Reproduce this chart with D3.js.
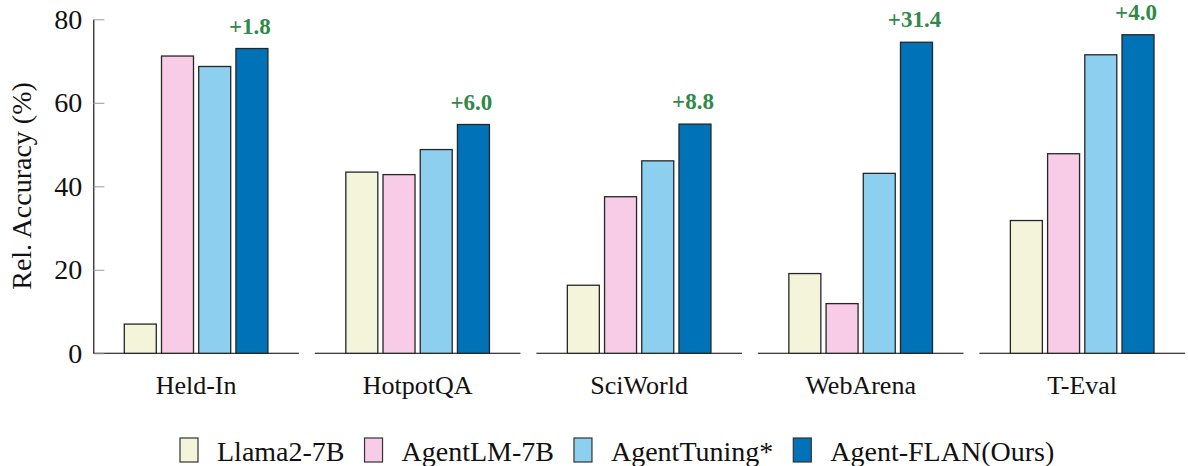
<!DOCTYPE html>
<html><head><meta charset="utf-8">
<script src="https://cdn.jsdelivr.net/npm/d3@7"></script>
<style>body{margin:0;background:#fff}svg{display:block}</style>
</head><body>
<svg id="c" width="1188" height="466"></svg>
<script>
const categories = ["Held-In", "HotpotQA", "SciWorld", "WebArena", "T-Eval"];
const seriesNames = ["Llama2-7B", "AgentLM-7B", "AgentTuning*", "Agent-FLAN(Ours)"];
const llama2 = [7.0, 43.4, 16.3, 19.1, 31.8];
const agentLM = [71.2, 42.8, 37.5, 11.9, 47.8];
const agentTuning = [68.7, 48.8, 46.1, 43.1, 71.5];
const agentFLAN = [73.0, 54.8, 54.9, 74.5, 76.3];
const gains = ["+1.8", "+6.0", "+8.8", "+31.4", "+4.0"];
const yTicks = [0, 20, 40, 60, 80];
const colors = ["#f4f4da", "#f8cbe6", "#8dcfef", "#0072b8"];
const yLabel = "Rel. Accuracy (%)";

const series = [llama2, agentLM, agentTuning, agentFLAN];
const FONT = "'Liberation Serif','Times New Roman',serif";
const svg = d3.select("#c");

const y = d3.scaleLinear().domain([0, 80]).range([353.3, 19.3]);
const x0 = d3.scaleBand().domain(categories).range([93.3, 1185]).paddingInner(0.0718).paddingOuter(0);
const x1 = d3.scaleBand().domain(seriesNames).range([0, x0.bandwidth()]).paddingInner(0.14).paddingOuter(0.833);

// per-group baselines
svg.append("g").selectAll("line").data(categories).join("line")
  .attr("x1", d => x0(d)).attr("x2", d => x0(d) + x0.bandwidth())
  .attr("y1", y(0)).attr("y2", y(0))
  .attr("stroke", "#000").attr("stroke-width", 1.1);

// y axis
const yAxis = svg.append("g").attr("transform", `translate(${x0(categories[0])},0)`)
  .call(d3.axisLeft(y).tickValues(yTicks).tickSize(-11).tickSizeOuter(0).tickPadding(11));
yAxis.select(".domain").attr("stroke", "#000").attr("stroke-width", 1.1);
yAxis.selectAll(".tick line").attr("stroke", "#999");
yAxis.selectAll(".tick text").attr("font-family", FONT).attr("font-size", 28).attr("fill", "#111");

svg.append("text").attr("transform", `translate(31,186) rotate(-90)`)
  .attr("text-anchor", "middle").attr("font-family", FONT).attr("font-size", 28).attr("fill", "#111")
  .text(yLabel);

// bars
const groups = svg.append("g").selectAll("g").data(categories).join("g")
  .attr("transform", d => `translate(${x0(d)},0)`);
groups.selectAll("rect").data((c, ci) => seriesNames.map((s, si) => ({s, si, v: series[si][ci]})))
  .join("rect")
  .attr("x", d => x1(d.s)).attr("width", x1.bandwidth())
  .attr("y", d => y(d.v)).attr("height", d => y(0) - y(d.v))
  .attr("fill", d => colors[d.si]).attr("stroke", "#262626").attr("stroke-width", 1.3);

// gains
groups.append("text")
  .attr("x", x1(seriesNames[3]) + x1.bandwidth() / 2 - 2)
  .attr("y", (c, ci) => y(agentFLAN[ci]) - 15)
  .attr("text-anchor", "middle").attr("font-family", FONT).attr("font-weight", "bold")
  .attr("font-size", 23).attr("fill", "#2f8a4a")
  .text((c, ci) => gains[ci]);

// category labels
groups.append("text")
  .attr("x", x0.bandwidth() / 2).attr("y", 394)
  .attr("text-anchor", "middle").attr("font-family", FONT).attr("font-size", 26).attr("fill", "#111")
  .text(d => d);

// legend
const lg = svg.append("g");
let cx = 180;
seriesNames.forEach((s, i) => {
  lg.append("rect").attr("x", cx).attr("y", 438).attr("width", 18).attr("height", 24)
    .attr("fill", colors[i]).attr("stroke", "#333").attr("stroke-width", 1.2);
  const t = lg.append("text").attr("x", cx + 37).attr("y", 461)
    .attr("font-family", FONT).attr("font-size", 28).attr("fill", "#111").text(s);
  cx = cx + 37 + t.node().getComputedTextLength() + 20;
});
</script>
</body></html>
